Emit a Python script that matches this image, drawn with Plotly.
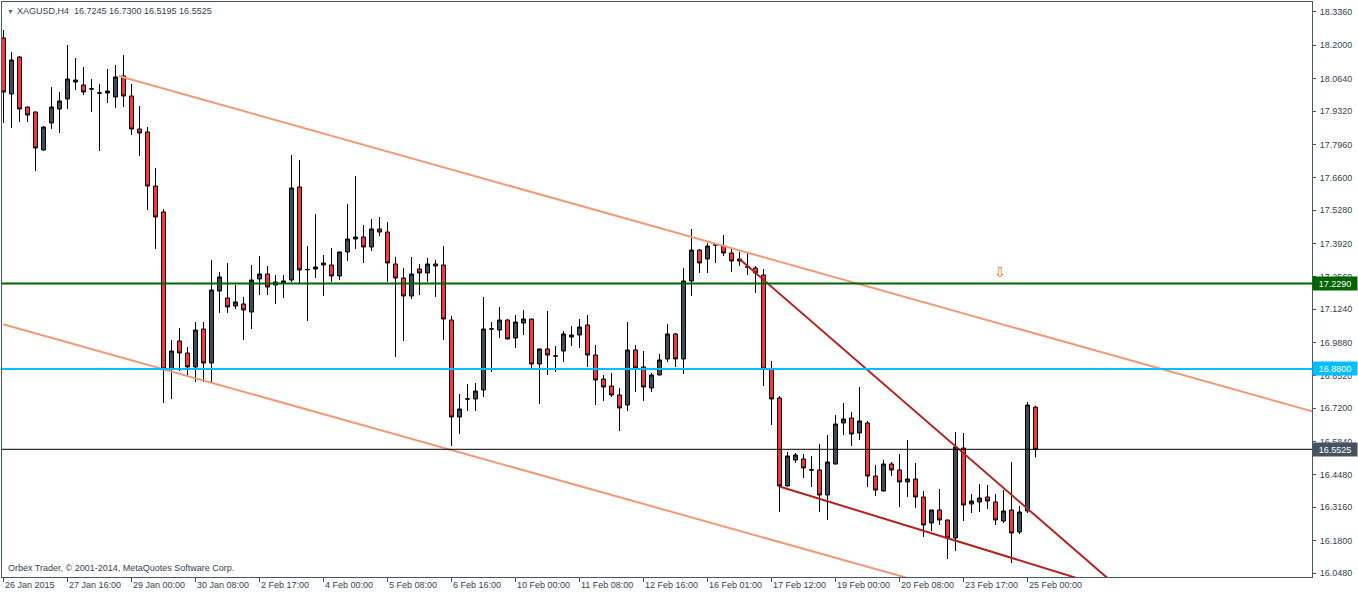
import plotly.graph_objects as go

# ---- data (XAGUSD H4) ----
opens = [18.2299, 18.0015, 18.1524, 17.9485, 17.9281, 17.7732, 17.8833, 17.9404, 17.9812, 18.0505,
         18.0382, 18.0215, 18.0061, 18.0056, 17.9893, 18.0750, 17.9934, 17.8588, 17.8466, 17.6263,
         17.5203, 16.8800, 16.9942, 16.9453, 16.8882, 17.0431, 16.9045, 17.1981, 17.1696, 17.1369,
         17.1451, 17.1125, 17.2471, 17.2675, 17.2226, 17.2307, 17.2430, 17.6223, 17.2845, 17.2878,
         17.3123, 17.3042, 17.2593, 17.3572, 17.4102, 17.4183, 17.3776, 17.4510, 17.4387, 17.3082,
         17.2511, 17.1777, 17.2878, 17.2715, 17.3082, 17.3042, 17.0798, 16.6843, 16.7572, 16.7577,
         16.7944, 17.0426, 17.0391, 17.0798, 17.0064, 17.0676, 17.0839, 16.9004, 16.9616, 16.9325,
         16.9534, 17.0105, 17.0187, 17.0595, 16.9371, 16.8392, 16.8107, 16.7740, 16.7332, 16.9575,
         16.8882, 16.8025, 16.8555, 16.9208, 17.0228, 16.9208, 17.2389, 17.3653, 17.3286, 17.3852,
         17.3816, 17.3531, 17.3205, 17.2955, 17.2919, 17.2634, 16.8800, 16.7617, 16.4029, 16.5089,
         16.5130, 16.4676, 16.4681, 16.3661, 16.4926, 16.6598, 16.6802, 16.6190, 16.6598, 16.4436,
         16.3825, 16.4926, 16.4681, 16.4192, 16.4314, 16.3580, 16.2520, 16.3050, 16.2642, 16.1908,
         16.5578, 16.3294, 16.3376, 16.3580, 16.3376, 16.2601, 16.3050, 16.2152, 16.3009, 16.7245]
highs = [18.2626, 18.1728, 18.1565, 17.9500, 17.9300, 17.8700, 18.0301, 18.0097, 18.2014, 18.1484,
         18.1117, 18.0627, 18.0423, 18.1035, 18.1198, 18.1606, 18.0423, 17.9526, 17.8670, 17.6998,
         17.5326, 16.9983, 17.0472, 16.9697, 17.0717, 17.0717, 17.3245, 17.2756, 17.3123, 17.2226,
         17.1737, 17.3042, 17.3409, 17.3001, 17.2634, 17.2634, 17.7528, 17.7324, 17.3816, 17.5121,
         17.3449, 17.3735, 17.3580, 17.5529, 17.6671, 17.4673, 17.4918, 17.4999, 17.4795, 17.3368,
         17.2919, 17.3368, 17.3082, 17.3327, 17.3245, 17.3816, 17.0962, 16.7781, 16.8188, 16.8229,
         17.1737, 17.0717, 17.1329, 17.0839, 17.1002, 17.1206, 17.0850, 16.9630, 17.1166, 16.9738,
         17.0350, 17.0554, 17.0839, 17.1002, 16.9779, 16.8555, 16.8637, 16.8025, 17.0717, 16.9779,
         16.9534, 16.8637, 16.9412, 17.0635, 17.0268, 17.2919, 17.4510, 17.3694, 17.3939, 17.3939,
         17.4265, 17.3735, 17.3572, 17.3531, 17.3001, 17.2878, 16.9126, 16.7699, 16.5415, 16.5374,
         16.5334, 16.5252, 16.5741, 16.6108, 16.6924, 16.7414, 16.7046, 16.8066, 16.6679, 16.4885,
         16.5089, 16.5007, 16.5334, 16.5905, 16.4967, 16.3825, 16.3060, 16.3906, 16.2650, 16.6231,
         16.6190, 16.3702, 16.4110, 16.4069, 16.3702, 16.3865, 16.5007, 16.3213, 16.7454, 16.7300]
lows = [17.8833, 17.8629, 17.8874, 17.8874, 17.6875, 17.7710, 17.8588, 17.8425, 17.9404, 18.0179,
        17.9975, 17.9281, 17.7691, 17.9648, 17.9444, 17.9485, 17.8343, 17.7487, 17.5285, 17.3694,
        16.7414, 16.7577, 16.8719, 16.8474, 16.8270, 16.8270, 16.8229, 17.1084, 17.1084, 17.1247,
        16.9983, 17.0431, 17.1818, 17.1818, 17.1451, 17.1696, 17.2348, 17.2307, 17.0758, 17.2511,
        17.1777, 17.2348, 17.2430, 17.3205, 17.3694, 17.3123, 17.3613, 17.4224, 17.2348, 16.9290,
        16.9942, 17.1655, 17.1818, 17.2348, 17.1737, 16.9983, 16.5660, 16.6149, 16.7087, 16.7087,
        16.7658, 16.8678, 17.0064, 17.0010, 16.9657, 17.0187, 16.8759, 16.7373, 16.8555, 16.8678,
        16.9086, 16.9738, 16.9657, 16.8882, 16.7332, 16.7495, 16.7658, 16.6272, 16.7087, 16.7862,
        16.7495, 16.7862, 16.8540, 16.9086, 16.8882, 16.8596, 17.1777, 17.2715, 17.2715, 17.3123,
        17.3409, 17.2756, 17.3001, 17.2634, 17.1900, 16.8107, 16.6516, 16.2968, 16.4010, 16.4967,
        16.4355, 16.3988, 16.2968, 16.2642, 16.4910, 16.6108, 16.5660, 16.5905, 16.3988, 16.3621,
        16.3810, 16.4436, 16.3172, 16.3580, 16.3131, 16.1949, 16.2193, 16.2438, 16.1051, 16.1378,
        16.2601, 16.2927, 16.2968, 16.3090, 16.2438, 16.2520, 16.0888, 16.2071, 16.2927, 16.5195]
closes = [18.0097, 18.1402, 17.9404, 17.9159, 17.7813, 17.8670, 17.9485, 17.9730, 18.0627, 18.0586,
          18.0097, 18.0225, 18.0051, 18.0138, 18.0709, 17.9934, 17.8588, 17.8425, 17.6263, 17.4999,
          16.8800, 16.9534, 16.9453, 16.8882, 17.0391, 16.9045, 17.2022, 17.2552, 17.1329, 17.1533,
          17.1206, 17.2430, 17.2675, 17.2144, 17.2348, 17.2389, 17.6182, 17.2838, 17.2860, 17.2960,
          17.3042, 17.2593, 17.3572, 17.4102, 17.4183, 17.3776, 17.4510, 17.4387, 17.3123, 17.2511,
          17.1777, 17.2675, 17.2715, 17.3082, 17.3001, 17.0839, 16.6843, 16.7169, 16.7582, 16.7903,
          17.0431, 17.0436, 17.0798, 17.0024, 17.0717, 17.0839, 16.9004, 16.9616, 16.9371, 16.9335,
          17.0228, 17.0187, 17.0513, 16.9371, 16.8352, 16.8066, 16.7740, 16.7210, 16.9575, 16.8841,
          16.8066, 16.8555, 16.9167, 17.0228, 16.9208, 17.2389, 17.3653, 17.3123, 17.3816, 17.3862,
          17.3531, 17.3205, 17.3286, 17.2965, 17.2715, 16.8800, 16.7577, 16.4029, 16.5252, 16.5293,
          16.4763, 16.4686, 16.3661, 16.5007, 16.6557, 16.6761, 16.6149, 16.6679, 16.4436, 16.3865,
          16.4926, 16.4681, 16.4192, 16.4314, 16.3580, 16.2438, 16.3050, 16.2642, 16.1908, 16.5619,
          16.3254, 16.3417, 16.3539, 16.3417, 16.2642, 16.3009, 16.2112, 16.2968, 16.7332, 16.5525]

bar_index = list(range(len(opens)))

time_tick_bars = [0, 8, 16, 24, 32, 40, 48, 56, 64, 72, 80, 88, 96, 104, 112, 120, 128]
time_tick_labels = ["26 Jan 2015", "27 Jan 16:00", "29 Jan 00:00", "30 Jan 08:00", "2 Feb 17:00",
                    "4 Feb 00:00", "5 Feb 08:00", "6 Feb 16:00", "10 Feb 00:00", "11 Feb 08:00",
                    "12 Feb 16:00", "16 Feb 01:00", "17 Feb 12:00", "19 Feb 00:00", "20 Feb 08:00",
                    "23 Feb 17:00", "25 Feb 00:00"]

price_ticks = [18.3360, 18.2000, 18.0640, 17.9320, 17.7960, 17.6600, 17.5280, 17.3920, 17.2560,
               17.1240, 16.9880, 16.8520, 16.7200, 16.5840, 16.4480, 16.3160, 16.1800, 16.0480]

# horizontal levels
level_green = 17.2290
level_cyan = 16.8800
bid_price = 16.5525

# trend lines: (x0, x1), (y0, y1) in bar index / price
channel_upper = ([14.4, 163.6], [18.075, 16.707])
channel_lower = ([-0.04, 163.6], [17.0623, 15.5646])
wedge_upper = ([91.9, 163.6], [17.3315, 15.303])
wedge_lower = ([97.1, 163.6], [16.4000, 15.7316])

arrow_pos = (124.6, 17.2756)

header = "XAGUSD,H4  16.7245 16.7300 16.5195 16.5525"
footer = "Orbex Trader, \u00a9 2001-2014, MetaQuotes Software Corp."

# ---- figure ----
FONT = "Liberation Sans, Arial, sans-serif"
AXC = "#46566a"
TXT = "#344250"

fig = go.Figure()

fig.add_trace(go.Candlestick(
    x=bar_index, open=opens, high=highs, low=lows, close=closes,
    increasing=dict(fillcolor="#3f4b57", line=dict(color="#000000", width=1)),
    decreasing=dict(fillcolor="#ff3333", line=dict(color="#000000", width=1)),
    whiskerwidth=0, hoverinfo="skip", showlegend=False,
))

for (xs, ys), col in [(channel_upper, "#ee9977"), (channel_lower, "#ee9977"),
                      (wedge_upper, "#b22222"), (wedge_lower, "#b22222")]:
    fig.add_trace(go.Scatter(x=xs, y=ys, mode="lines", line=dict(color=col, width=2),
                             hoverinfo="skip", showlegend=False))

fig.add_hline(y=level_green, line=dict(color="#006400", width=2))
fig.add_hline(y=level_cyan, line=dict(color="#00bfff", width=2))
fig.add_hline(y=bid_price, line=dict(color="#000000", width=1))

annotations = []
for b, lab in zip(time_tick_bars, time_tick_labels):
    annotations.append(dict(x=b, y=0, xref="x", yref="paper", text=lab, showarrow=False,
                            xanchor="left", yanchor="top", xshift=-1, yshift=-1,
                            font=dict(family=FONT, size=9, color=TXT)))

for val, bg in [(level_green, "#006400"), (level_cyan, "#00bfff"), (bid_price, "#46525e")]:
    annotations.append(dict(x=1, y=val, xref="paper", yref="y", text=f"{val:.4f}",
                            showarrow=False, xanchor="left", yanchor="middle", xshift=0,
                            bgcolor=bg, borderpad=1, width=42, height=11, align="center",
                            font=dict(family=FONT, size=9, color="#ffffff")))

annotations.append(dict(x=0, y=1, xref="paper", yref="paper", text="\u25bc", showarrow=False,
                        xanchor="left", yanchor="top", xshift=3, yshift=-4,
                        font=dict(family=FONT, size=7, color="#5a6470")))
annotations.append(dict(x=0, y=1, xref="paper", yref="paper", text=header, showarrow=False,
                        xanchor="left", yanchor="top", xshift=13, yshift=-2,
                        font=dict(family=FONT, size=9, color=TXT)))
annotations.append(dict(x=0, y=0, xref="paper", yref="paper", text=footer, showarrow=False,
                        xanchor="left", yanchor="bottom", xshift=4, yshift=2,
                        font=dict(family=FONT, size=9, color=TXT)))
annotations.append(dict(x=arrow_pos[0], y=arrow_pos[1], xref="x", yref="y", text="\u21e9",
                        showarrow=False, xanchor="center", yanchor="middle",
                        font=dict(family="DejaVu Sans", size=14, color="#d08000")))

fig.update_layout(
    width=1358, height=594,
    margin=dict(l=2, r=46, t=2, b=17),
    paper_bgcolor="#ffffff", plot_bgcolor="#ffffff",
    boxgap=0.5, boxgroupgap=0, boxmode="overlay",
    showlegend=False,
    annotations=annotations,
    xaxis=dict(range=[-0.1875, 163.5625], rangeslider=dict(visible=False), showgrid=False,
               zeroline=False, tickmode="array", tickvals=time_tick_bars, showticklabels=False,
               ticks="outside", ticklen=4, tickcolor=AXC, showline=True, linecolor=AXC,
               linewidth=1, mirror=True, fixedrange=True),
    yaxis=dict(range=[16.0317, 18.3767], side="right", showgrid=False, zeroline=False,
               tickmode="array", tickvals=price_ticks, ticktext=[f"{v:.4f}" for v in price_ticks],
               ticks="outside", ticklen=3, tickcolor=AXC, showline=True, linecolor=AXC,
               linewidth=1, mirror=True, tickfont=dict(family=FONT, size=9, color=TXT),
               ticklabelstandoff=2, automargin=False, fixedrange=True),
)

fig.write_html("out.html", config={"displayModeBar": False})

# remove the browser's default page margin so the chart sits at the window's corner
with open("out.html", "r", encoding="utf-8") as fh:
    page = fh.read()
page = page.replace("<head>", "<head><style>html,body{margin:0;padding:0;overflow:hidden;}</style>", 1)
with open("out.html", "w", encoding="utf-8") as fh:
    fh.write(page)
